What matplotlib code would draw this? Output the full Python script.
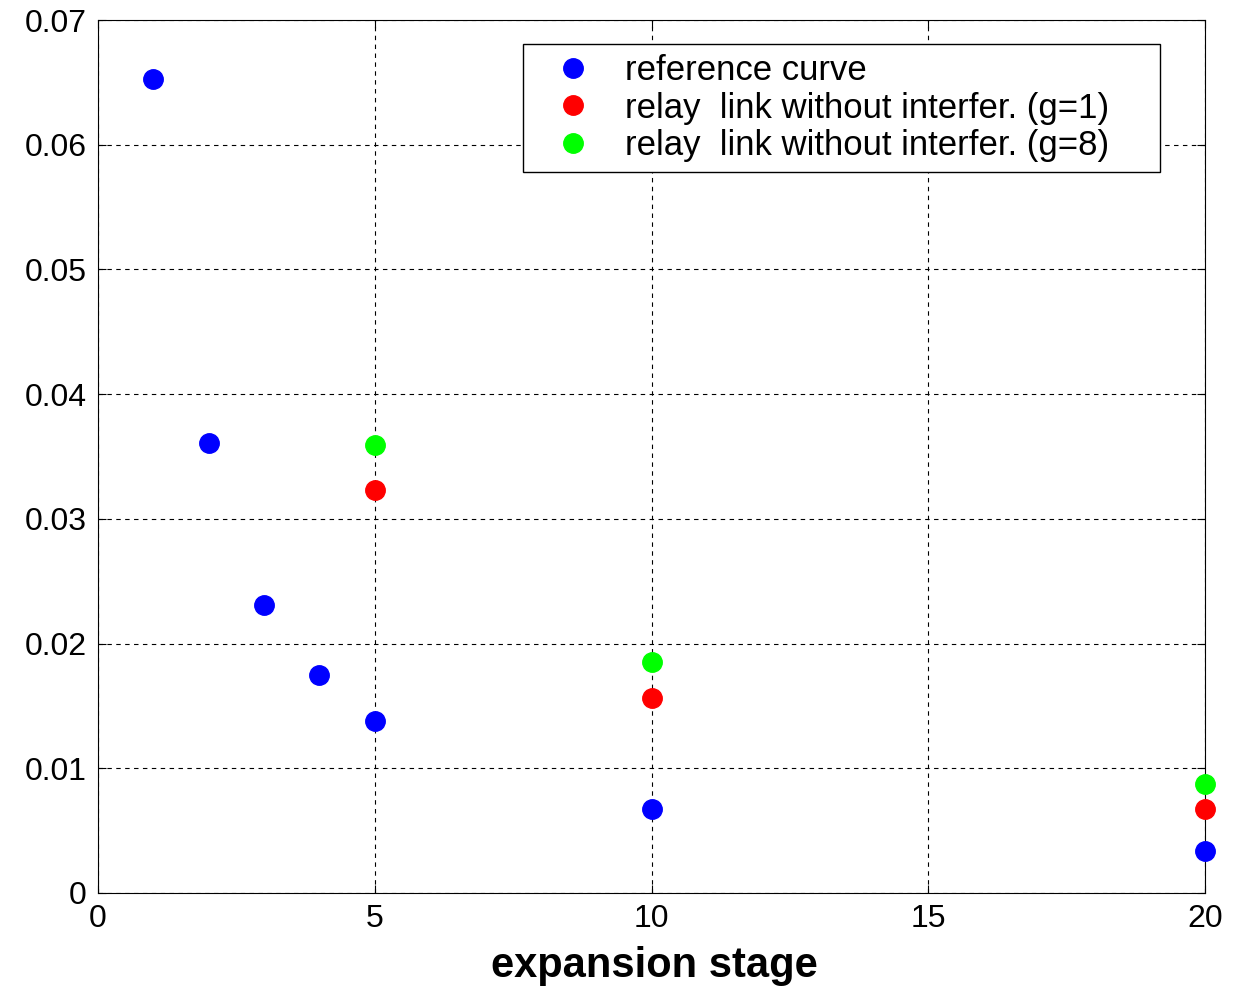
import matplotlib
matplotlib.use("Agg")
import matplotlib.pyplot as plt

plt.rcParams['font.family'] = ['Liberation Sans', 'DejaVu Sans']

ref_x = [1, 2, 3, 4, 5, 10, 20]
ref_y = [0.0653, 0.0361, 0.0231, 0.0175, 0.0138, 0.0067, 0.0034]
g1_x = [5, 10, 20]
g1_y = [0.0323, 0.0156, 0.0067]
g8_x = [5, 10, 20]
g8_y = [0.0359, 0.0185, 0.0087]

labels = ['reference curve',
          'relay  link without interfer. (g=1)',
          'relay  link without interfer. (g=8)']

W, H = 1233, 990
fig = plt.figure(figsize=(W / 100, H / 100), dpi=100)
ax = fig.add_axes([98/W, 1-893/H, (1205-98)/W, (893-20)/H])

ms = 14
for xs, ys, c, lab in [(ref_x, ref_y, (0, 0, 1), labels[0]),
                       (g1_x, g1_y, (1, 0, 0), labels[1]),
                       (g8_x, g8_y, (0, 1, 0), labels[2])]:
    ax.plot(xs, ys, 'o', color=c, markersize=ms, linestyle='none', label=lab,
            clip_on=False, zorder=5)

ax.set_xlim(0, 20)
ax.set_ylim(0, 0.07)
ax.set_xticks([0, 5, 10, 15, 20])
ax.set_yticks([0, 0.01, 0.02, 0.03, 0.04, 0.05, 0.06, 0.07])
ax.set_yticklabels(['0', '0.01', '0.02', '0.03', '0.04', '0.05', '0.06', '0.07'])
ax.tick_params(direction='in', length=6, width=0.8, labelsize=23, top=True, right=True, pad=8)
ax.grid(True, linestyle=(0, (4, 4)), color='black', linewidth=0.8)
for s in ax.spines.values():
    s.set_linewidth(0.8)

fig.text(654/W, 1-966/H, 'expansion stage', fontsize=30, fontweight='bold',
         ha='center', va='center')

# legend frame in axes fraction
x0 = (523-98)/(1205-98)
x1 = (1160-98)/(1205-98)
ytop = 1-(44-20)/(893-20)
leg = ax.legend(loc='upper left', bbox_to_anchor=(x0, ytop, x1-x0, 0.0), mode='expand',
                fontsize=25, frameon=True, fancybox=False, edgecolor='black', framealpha=1,
                handletextpad=0.35, borderpad=0.3, labelspacing=0.12, handlelength=2.3,
                borderaxespad=0)
leg.get_frame().set_linewidth(1.0)

fig.savefig('out.png', dpi=100)
